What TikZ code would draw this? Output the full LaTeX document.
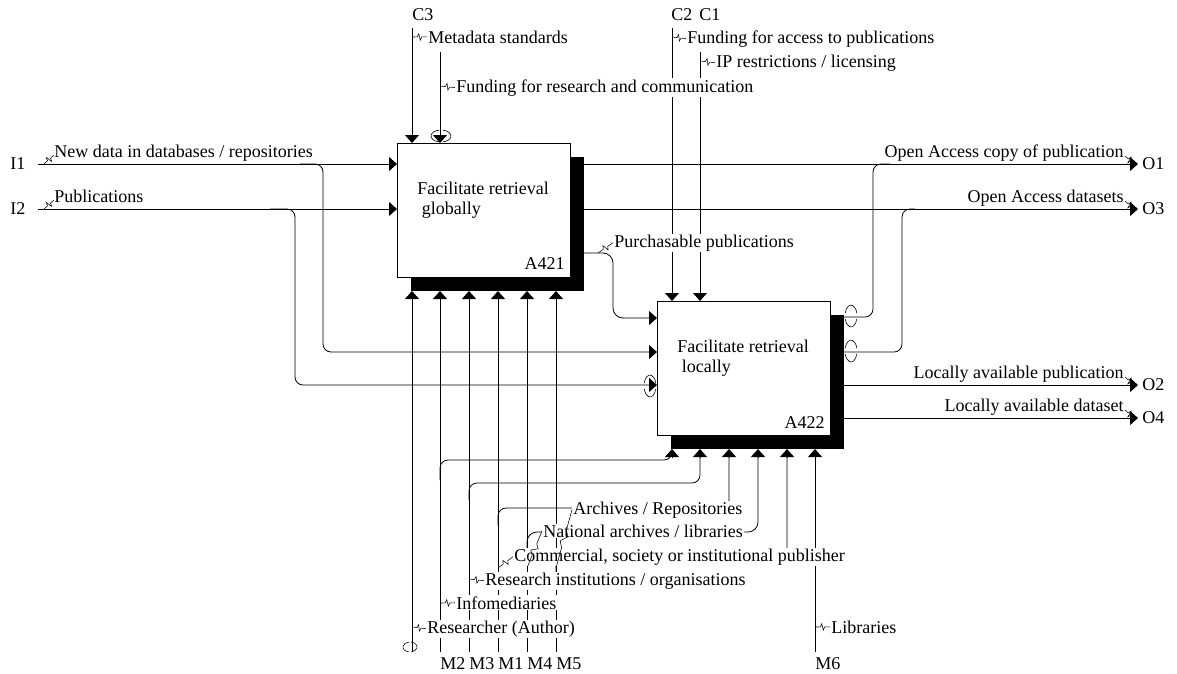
\documentclass[tikz,border=0pt]{standalone}
\usepackage{fontspec}
\setmainfont{Liberation Serif}
\usetikzlibrary{calc,arrows.meta}
\newcommand{\squig}[2]{\draw[sq] (#1) -- ($(#1)!0.35!(#2)$) -- ($(#1)!0.45!(#2)!3.2pt!90:(#2)$) -- ($(#1)!0.55!(#2)!3.2pt!-90:(#2)$) -- ($(#1)!0.65!(#2)$) -- (#2);}
\newcommand{\tunV}[3]{\draw[tun] ($(#1)+(100:#2 and #3)$) arc[start angle=100,end angle=260,x radius=#2,y radius=#3] ($(#1)+(-80:#2 and #3)$) arc[start angle=-80,end angle=80,x radius=#2,y radius=#3];}
\newcommand{\tunH}[3]{\draw[tun] ($(#1)+(15:#2 and #3)$) arc[start angle=15,end angle=165,x radius=#2,y radius=#3] ($(#1)+(195:#2 and #3)$) arc[start angle=195,end angle=345,x radius=#2,y radius=#3];}
\begin{document}
\begin{tikzpicture}[x=1pt,y=-1pt,line width=0.8pt,
  font=\fontsize{18}{20}\selectfont,
  arr/.style={-{Triangle[length=8pt,width=14pt]}},
  sq/.style={line width=0.55pt},
  tun/.style={line width=0.6pt},
  lbl/.style={fill=white,inner sep=1pt,anchor=base west},
  lble/.style={fill=white,inner sep=1pt,anchor=base east},
  bnd/.style={inner sep=0pt,anchor=base west},
  box/.style={draw,fill=white,line width=0.8pt,minimum width=173pt,minimum height=134pt,anchor=north west,inner sep=0pt,outer sep=0pt}]
\fill[white] (0,0) rectangle (1177,673);
\useasboundingbox (0,0) rectangle (1177,673);

% boxes with shadows
\fill (411,157) rectangle (584,291);
\node[box] (A421) at (397,143) {};
\fill (671,315) rectangle (844,449);
\node[box] (A422) at (657,301) {};
\node[anchor=north west,align=left,inner sep=0pt] (t421) at (417,181.5) {Facilitate retrieval\\\ globally};
\node[anchor=base east,inner sep=0pt] (n421) at (565,269) {A421};
\node[anchor=north west,align=left,inner sep=0pt] (t422) at (677,339.5) {Facilitate retrieval\\\ locally};
\node[anchor=base east,inner sep=0pt] (n422) at (825,428) {A422};

% controls
\coordinate (c3) at (412,28);
\coordinate (ct) at (440,52);
\coordinate (c2) at (672,28);
\coordinate (c1) at (700,52);
\draw[arr] (c3) -- (412,143);
\draw[arr] (ct) -- (440,143);
\draw[arr] (c2) -- (672,301);
\draw[arr] (c1) -- (700,301);

% inputs
\coordinate (i1) at (38,164);
\coordinate (i2) at (38,209);
\draw[arr] (i1) -- (397,164);
\draw[arr] (i2) -- (397,209);
\draw[arr,rounded corners=8] (300,164) -| (323,352) -- (657,352);
\draw[arr,rounded corners=8] (270,209) -| (295,385) -- (657,385);

% outputs
\coordinate (o1) at (1138,164);
\coordinate (o3) at (1138,209);
\coordinate (o2) at (1138,385);
\coordinate (o4) at (1138,418);
\draw[arr] (570,164) -- (o1);
\draw[arr] (570,209) -- (o3);
\draw[arr,rounded corners=10] (570,253) -| (613,318) -- (657,318);
\draw[rounded corners=8] (830,317) -| (873,164) -- (890,164);
\draw[rounded corners=8] (830,352) -| (902,209) -- (915,209);
\draw[arr] (830,385) -- (o2);
\draw[arr] (830,418) -- (o4);

% mechanisms
\foreach \x/\n in {412/mt,440/m2,469/m3,498/m1,527/m4,556/m5} {
  \coordinate (\n) at (\x,652);
  \draw[arr] (\n) -- (\x,291);
}
\coordinate (m6) at (815,652);
\draw[arr] (m6) -- (815,449);
\draw[rounded corners=8] (440,480) |- (672,460) -- (672,450);
\draw[rounded corners=8] (469,500) |- (700,483) -- (700,450);
\draw[rounded corners=8] (498,525) |- (729,508) -- (729,450);
\draw[rounded corners=10] (527,550) |- (758,532) -- (758,450);
\draw[rounded corners=8] (556,575) |- (787,557) -- (787,450);
\foreach \x in {672,700,729,758,787} {\draw[arr] (\x,457) -- (\x,449);}

% boundary labels
\node[bnd] (lC3) at (412,20) {C3};
\node[bnd] (lC2) at (671,20) {C2};
\node[bnd] (lC1) at (699,20) {C1};
\node[bnd] (lI1) at (10,169) {I1};
\node[bnd] (lI2) at (10,214) {I2};
\node[bnd] (lO1) at (1142,169) {O1};
\node[bnd] (lO3) at (1142,214) {O3};
\node[bnd] (lO2) at (1142,390) {O2};
\node[bnd] (lO4) at (1142,423) {O4};
\node[bnd] (lM2) at (440,669) {M2};
\node[bnd] (lM3) at (469,669) {M3};
\node[bnd] (lM1) at (498,669) {M1};
\node[bnd] (lM4) at (527,669) {M4};
\node[bnd] (lM5) at (556,669) {M5};
\node[bnd] (lM6) at (815,669) {M6};

% arrow labels
\node[lbl] (tMeta) at (427,43) {Metadata standards};
\node[lbl] (tFR) at (455,92) {Funding for research and communication};
\node[lbl] (tFA) at (686,43) {Funding for access to publications};
\node[lbl] (tIP) at (715,67) {IP restrictions / licensing};
\node[lbl] (tND) at (53,157) {New data in databases / repositories};
\node[lbl] (tPub) at (53,202) {Publications};
\node[lble] (tOA1) at (1125,157) {Open Access copy of publication};
\node[lble] (tOA3) at (1125,202) {Open Access datasets};
\node[lbl] (tPP) at (613,247) {Purchasable publications};
\node[lble] (tLP) at (1125,378) {Locally available publication};
\node[lble] (tLD) at (1125,411) {Locally available dataset};
\node[lbl] (tArc) at (572,514) {Archives / Repositories};
\node[lbl] (tNat) at (542,537) {National archives / libraries};
\node[lbl] (tCom) at (513,561) {Commercial, society or institutional publisher};
\node[lbl] (tRes) at (484,585) {Research institutions / organisations};
\node[lbl] (tInf) at (455,609) {Infomediaries};
\node[lbl] (tRA) at (426,633) {Researcher (Author)};
\node[lbl] (tLib) at (830,633) {Libraries};

% squiggles
\coordinate (sND) at ($(tND.base west)+(1,-2)$);
\coordinate (sPub) at ($(tPub.base west)+(1,-2)$);
\coordinate (sOA1) at ($(tOA1.base east)+(0,-1)$);
\coordinate (sOA3) at ($(tOA3.base east)+(0,-1)$);
\coordinate (sLP) at ($(tLP.base east)+(0,-1)$);
\coordinate (sLD) at ($(tLD.base east)+(0,-1)$);
\squig{412,37}{tMeta.west}
\squig{440,86}{tFR.west}
\squig{672,37}{tFA.west}
\squig{700,61}{tIP.west}
\squig{44,164}{sND}
\squig{44,209}{sPub}
\squig{sOA1}{1134,164}
\squig{sOA3}{1134,209}
\squig{sLP}{1134,385}
\squig{sLD}{1134,418}
\squig{598,253}{tPP.west}
\squig{556,568}{tArc.west}
\squig{527,568}{tNat.west}
\squig{498,568}{tCom.west}
\squig{469,579}{tRes.west}
\squig{440,603}{tInf.west}
\squig{412,627}{tRA.west}
\squig{815,627}{tLib.west}

% tunnels
\tunV{441,136}{10}{6}
\tunV{410,647}{7}{5}
\tunH{650,386}{6}{11}
\tunH{851,316}{6}{11}
\tunH{851,351}{6}{11}
\end{tikzpicture}
\end{document}
